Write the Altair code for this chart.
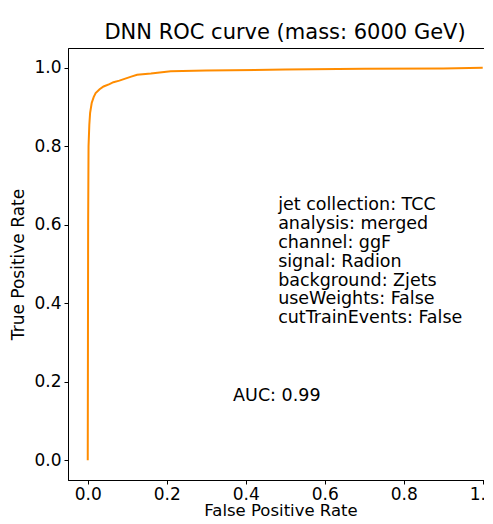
import altair as alt
import pandas as pd

fpr = [0.0, 0.0005, 0.001, 0.002, 0.004, 0.006, 0.010, 0.015, 0.020, 0.030,
       0.040, 0.055, 0.065, 0.080, 0.095, 0.110, 0.125, 0.160, 0.210, 0.300,
       0.500, 0.700, 0.900, 1.0]
tpr = [0.0, 0.30, 0.60, 0.80, 0.855, 0.885, 0.910, 0.925, 0.935, 0.945,
       0.952, 0.958, 0.963, 0.967, 0.972, 0.977, 0.982, 0.985, 0.991, 0.993,
       0.995, 0.997, 0.998, 1.0]
title = "DNN ROC curve (mass: 6000 GeV)"
info_lines = ["jet collection: TCC", "analysis: merged", "channel: ggF",
              "signal: Radion", "background: Zjets", "useWeights: False",
              "cutTrainEvents: False"]
auc_text = "AUC: 0.99"
ticks = [0.0, 0.2, 0.4, 0.6, 0.8, 1.0]

df = pd.DataFrame({"fpr": fpr, "tpr": tpr, "order": list(range(len(fpr)))})
FONT = "DejaVu Sans"

line = alt.Chart(df).mark_line(color="#ff8c00", strokeWidth=2).encode(
    x=alt.X("fpr:Q", scale=alt.Scale(domain=[-0.05, 1.026], nice=False, zero=False),
            axis=alt.Axis(values=ticks, format=".1f", title="False Positive Rate")),
    y=alt.Y("tpr:Q", scale=alt.Scale(domain=[-0.05, 1.05], nice=False, zero=False),
            axis=alt.Axis(values=ticks, format=".1f", title="True Positive Rate")),
    order="order:Q",
)

info = alt.Chart(pd.DataFrame({"t": ["\n".join(info_lines)]})).mark_text(
    align="left", baseline="top", font=FONT, fontSize=17.5, lineHeight=18.8,
    lineBreak="\n", color="black"
).encode(x=alt.datum(0.482), y=alt.datum(0.672), text="t:N")

auc = alt.Chart(pd.DataFrame({"t": [auc_text]})).mark_text(
    align="left", baseline="middle", font=FONT, fontSize=17.5, color="black"
).encode(x=alt.datum(0.368), y=alt.datum(0.165), text="t:N")

chart = alt.layer(line, info, auc).properties(
    width=425, height=432,
    title=alt.TitleParams(title, fontSize=21, font=FONT, fontWeight="normal",
                          color="black", anchor="middle", dx=4.5, offset=5),
    autosize=alt.AutoSizeParams(type="none"),
    padding={"left": 60, "top": 40, "right": -9, "bottom": 36},
).configure_view(stroke="black", strokeWidth=1).configure_axis(
    grid=False, domainColor="black", tickColor="black", tickSize=4,
    labelColor="black", labelFont=FONT, labelFontSize=17, labelPadding=3,
    titleFont=FONT, titleFontSize=17, titleFontWeight="normal", titleColor="black",
).configure_axisX(titlePadding=0, labelPadding=2, titleFontSize=16.5,
).configure_axisY(titlePadding=6)

chart.save("out.html", embed_options={"renderer": "svg", "actions": False})
